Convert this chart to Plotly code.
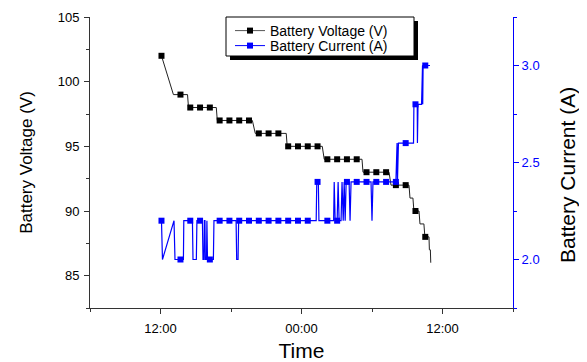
import plotly.graph_objects as go

# ---------------- data ----------------
# times written as "<day> HH:MM"  (day 1 = first day, day 2 = next day)
marker_times = ["1 12:05", "1 13:42", "1 14:32", "1 15:22", "1 16:12", "1 17:02", "1 17:52",
                "1 18:42", "1 19:32", "1 20:22", "1 21:12", "1 22:02", "1 22:52", "1 23:42",
                "2 00:32", "2 01:22", "2 02:12", "2 03:02", "2 03:52", "2 04:42", "2 05:32",
                "2 06:22", "2 07:12", "2 08:02", "2 08:52", "2 09:42", "2 10:32"]
voltage_marked = [102, 99, 98, 98, 98, 97, 97, 97, 97, 96, 96, 96, 95, 95,
                  95, 95, 94, 94, 94, 94, 93, 93, 93, 92, 92, 90, 88]
current_marked = [2.2, 2.0, 2.2, 2.2, 2.0, 2.2, 2.2, 2.2, 2.2, 2.2, 2.2, 2.2, 2.2, 2.2,
                  2.2, 2.4, 2.2, 2.2, 2.4, 2.4, 2.4, 2.4, 2.4, 2.4, 2.6, 2.8, 3.0]

volt_line_times = ["1 12:05", "1 13:06", "1 13:42", "1 14:18", "1 14:23", "1 14:32", "1 15:22",
                   "1 16:12", "1 16:45", "1 16:50", "1 17:02", "1 17:52", "1 18:42", "1 19:32",
                   "1 19:49", "1 20:04", "1 20:22", "1 21:12", "1 22:02", "1 22:42", "1 22:47",
                   "1 22:52", "1 23:42", "2 00:32", "2 01:22", "2 01:46", "2 01:56", "2 02:12",
                   "2 03:02", "2 03:52", "2 04:42", "2 05:09", "2 05:14", "2 05:32", "2 06:22",
                   "2 07:12", "2 07:27", "2 07:37", "2 08:02", "2 08:52", "2 09:09", "2 09:14",
                   "2 09:29", "2 09:34", "2 09:42", "2 10:00", "2 10:05", "2 10:25", "2 10:30",
                   "2 10:32", "2 10:51", "2 10:53", "2 10:58", "2 11:00"]
volt_line_values = [102, 99, 99, 99, 98, 98, 98, 98, 98, 97, 97, 97, 97, 97,
                    97, 96, 96, 96, 96, 96, 95, 95, 95, 95, 95, 95, 94, 94,
                    94, 94, 94, 94, 93, 93, 93, 93, 93, 92, 92, 92, 92, 91,
                    91, 90, 90, 90, 89, 89, 88, 88, 88, 87, 87, 86]

cur_line_times = ["1 12:05", "1 12:10", "1 13:09", "1 13:14", "1 13:42", "1 13:57", "1 13:59",
                  "1 14:32", "1 14:43", "1 14:46", "1 15:03", "1 15:06", "1 15:22", "1 15:34",
                  "1 15:37", "1 15:42", "1 15:44", "1 15:47", "1 15:49", "1 15:55", "1 15:57",
                  "1 16:00", "1 16:12", "1 16:30", "1 16:33", "1 17:02", "1 18:26", "1 18:29",
                  "1 18:36", "1 18:39", "2 01:15", "2 01:18", "2 01:22", "2 01:26", "2 01:29",
                  "2 02:12", "2 02:44", "2 02:47", "2 02:52", "2 03:02", "2 03:07", "2 03:12",
                  "2 03:22", "2 03:27", "2 03:33", "2 03:38", "2 03:43", "2 03:48", "2 03:52",
                  "2 04:03", "2 04:08", "2 04:13", "2 05:55", "2 06:00", "2 06:05", "2 08:02",
                  "2 08:08", "2 08:10", "2 08:15", "2 08:52", "2 09:32", "2 09:34", "2 09:42",
                  "2 09:51", "2 09:52", "2 09:55", "2 10:13", "2 10:15", "2 10:18", "2 10:19",
                  "2 10:21", "2 10:32", "2 10:56"]
cur_line_values = [2.2, 2.0, 2.2, 2.0, 2.0, 2.0, 2.2,
                   2.2, 2.2, 2.0, 2.0, 2.2, 2.2, 2.2,
                   2.0, 2.0, 2.2, 2.2, 2.0, 2.0, 2.2,
                   2.0, 2.0, 2.0, 2.2, 2.2, 2.2, 2.0,
                   2.0, 2.2, 2.2, 2.4, 2.4, 2.4, 2.2,
                   2.2, 2.2, 2.4, 2.2, 2.2, 2.4, 2.2,
                   2.2, 2.4, 2.2, 2.4, 2.2, 2.4, 2.4,
                   2.4, 2.2, 2.4, 2.4, 2.2, 2.4, 2.4,
                   2.6, 2.4, 2.6, 2.6, 2.6, 2.8, 2.8,
                   2.8, 2.6, 2.8, 2.8, 3.0, 3.0, 2.8,
                   3.0, 3.0, 3.0]

x_range = ["1 06:00", "2 18:00"]
tick_origin = "1 00:00"


def ts(s):
    d, hm = s.split()
    return f"2015-06-0{d} {hm}"


FONT = "Liberation Sans, Arial, sans-serif"
BLUE = "#0000ff"

fig = go.Figure()

fig.add_trace(go.Scatter(x=[ts(t) for t in volt_line_times], y=volt_line_values,
                         mode="lines", line=dict(color="#222222", width=1),
                         showlegend=False, hoverinfo="skip"))
fig.add_trace(go.Scatter(x=[ts(t) for t in marker_times], y=voltage_marked,
                         mode="markers", marker=dict(symbol="square", size=6, color="black"),
                         showlegend=False))
fig.add_trace(go.Scatter(x=[None], y=[None], mode="lines+markers", name="Battery Voltage (V)",
                         line=dict(color="#555555", width=1),
                         marker=dict(symbol="square", size=6, color="black"), legend="legend"))

fig.add_trace(go.Scatter(x=[ts(t) for t in cur_line_times], y=cur_line_values, yaxis="y2",
                         mode="lines", line=dict(color=BLUE, width=1.2),
                         showlegend=False, hoverinfo="skip"))
fig.add_trace(go.Scatter(x=[ts(t) for t in marker_times], y=current_marked, yaxis="y2",
                         mode="markers", marker=dict(symbol="square", size=6, color=BLUE),
                         showlegend=False))
fig.add_trace(go.Scatter(x=[None], y=[None], yaxis="y2", mode="lines+markers",
                         name="Battery Current (A)", line=dict(color=BLUE, width=1),
                         marker=dict(symbol="square", size=6, color=BLUE), legend="legend2"))

# page layout (the page body adds an 8px offset)
OFF = 8
PAGE_W, PAGE_H = 587, 362
PL, PR, PT, PB = 90, 513, 17, 308   # plot area in page pixels
W, H = PAGE_W - OFF, PAGE_H - OFF
L, T = PL - OFF, PT - OFF
R, B = W - (PR - OFF), H - (PB - OFF)
PW, PH = PR - PL, PB - PT


def px(xp):
    return (xp - PL) / PW


def py(yp):
    return (PB - yp) / PH


fig.update_layout(
    width=W, height=H,
    margin=dict(l=L, r=R, t=T, b=B, autoexpand=False),
    paper_bgcolor="white", plot_bgcolor="white",
    font=dict(family=FONT, color="black", size=13),
    xaxis=dict(
        type="date", range=[ts(x_range[0]), ts(x_range[1])],
        tickformat="%H:%M", dtick=43200000, tick0=ts(tick_origin),
        ticks="outside", ticklen=5, tickcolor="#333333", tickwidth=1,
        minor=dict(dtick=21600000, ticks="outside", ticklen=3, tickcolor="#333333"),
        showline=True, linecolor="#333333", linewidth=1,
        showgrid=False, zeroline=False,
        tickfont=dict(size=13), ticklabelstandoff=3,
        title=dict(text="Time", font=dict(size=21), standoff=13),
    ),
    xaxis2=dict(
        type="date", range=[ts(x_range[0]), ts(x_range[1])], overlaying="x", side="top",
        anchor="y", dtick=21600000, tick0=ts(tick_origin),
        ticks="inside", ticklen=3, tickcolor="#333333",
        showticklabels=False, showline=True, linecolor="black", linewidth=1,
        showgrid=False, zeroline=False,
    ),
    yaxis=dict(
        range=[82.5, 105], dtick=5, tick0=0,
        ticks="outside", ticklen=5, tickcolor="#333333",
        minor=dict(dtick=2.5, ticks="outside", ticklen=3, tickcolor="#333333"),
        showline=True, linecolor="#333333", linewidth=1,
        showgrid=False, zeroline=False,
        tickfont=dict(size=13), ticklabelstandoff=2,
        title=dict(text="Battery Voltage (V)", font=dict(size=17), standoff=20),
    ),
    yaxis2=dict(
        range=[1.75, 3.25], dtick=0.5, tick0=0, tickformat=".1f",
        overlaying="y", side="right", anchor="x",
        ticks="outside", ticklen=5, tickcolor=BLUE,
        minor=dict(dtick=0.25, ticks="outside", ticklen=3, tickcolor=BLUE),
        showline=True, linecolor=BLUE, linewidth=1,
        showgrid=False, zeroline=False,
        tickfont=dict(size=13, color=BLUE),
    ),
    annotations=[
        dict(text="Battery Current (A)", xref="paper", yref="paper",
             x=px(567), y=py(175), xanchor="center", yanchor="middle",
             textangle=-90, showarrow=False, font=dict(size=21, color="black")),
    ],
    legend=dict(x=px(230), y=py(31), xanchor="left", yanchor="middle",
                bgcolor="rgba(0,0,0,0)", borderwidth=0, font=dict(size=14)),
    legend2=dict(x=px(230), y=py(46), xanchor="left", yanchor="middle",
                 bgcolor="rgba(0,0,0,0)", borderwidth=0, font=dict(size=14)),
    shapes=[
        dict(type="rect", xref="paper", yref="paper", x0=px(230), x1=px(418),
             y0=py(60), y1=py(21), fillcolor="black", line=dict(width=0), layer="above"),
        dict(type="rect", xref="paper", yref="paper", x0=px(226), x1=px(414),
             y0=py(56), y1=py(17), fillcolor="white", line=dict(color="black", width=1),
             layer="above"),
    ],
)

fig.write_html("out.html")
